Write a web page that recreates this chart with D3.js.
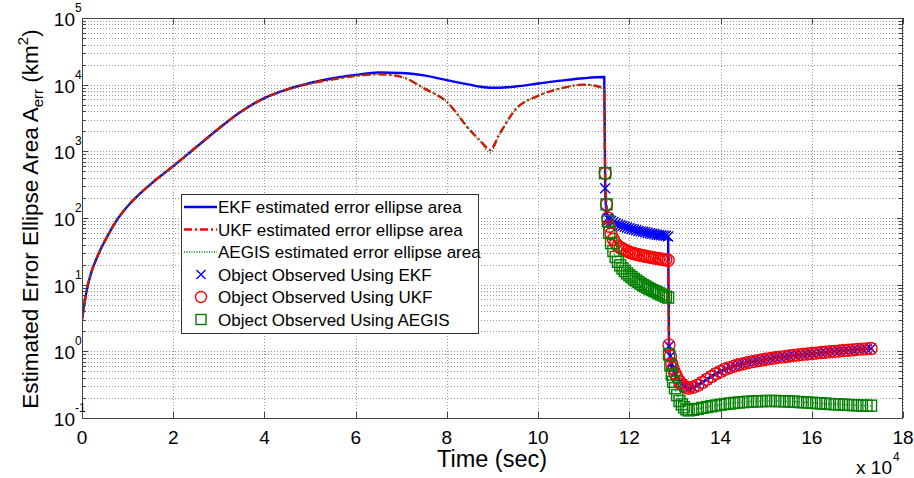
<!DOCTYPE html>
<html><head><meta charset="utf-8">
<script src="https://cdn.jsdelivr.net/npm/d3@7"></script>
<style>body{margin:0;background:#fff}svg{display:block;font-family:"Liberation Sans",Arial,sans-serif}</style>
</head><body><svg id="c" width="914" height="478"></svg>
<script>
// ---- data (time in units of 10^4 s) ----
const t1 = [0,0.1,0.2,0.3,0.4,0.5,0.75,1,1.5,2,2.5,3,3.5,4,4.5,5,5.5,6,6.5,7,7.5,8,8.5,8.75,8.95,9.15,9.5,10,10.5,11,11.45];
const ekf1 = [3,8,15,23,33,45,90,150,320,600,1150,2200,4000,6300,8500,10600,12500,14000,15200,15000,13800,11700,10000,9300,9000,9000,9400,10400,11500,12500,13000];
const ukf1 = [3,8,15,23,33,45,90,150,320,600,1150,2200,4000,6300,8500,10400,12000,13500,14300,13100,8800,5500,2100,1400,1050,1800,4200,6800,8800,10000,8800];
const aegis1 = [3,8,15,23,33,45,90,150,320,600,1150,2200,4000,6300,8500,10400,12000,13500,14300,13100,8800,5500,2100,1350,950,1750,4200,6800,8800,10000,8800];

const t2 = [11.47,11.5,11.53,11.56,11.6,11.65,11.7,11.75,11.8,11.85,11.9,11.95,12.0,12.05,12.1,12.15,12.2,12.25,12.3,12.35,12.4,12.45,12.5,12.55,12.6,12.65,12.7,12.75,12.8,12.85];
const ekf2 = [280,120,100,94,90,86,83,80,78,76,74,72,70,68.5,67,65.5,64,63,62,61,60,59,58,57,56,55.5,55,54.5,54,53];
const ukf2 = [470,160,100,75,58,48,42,38,36,34.5,33,32,30.5,29.8,29.2,28.6,28.1,27.6,27.1,26.7,26.3,25.9,25.5,25.1,24.8,24.5,24.2,23.9,23.6,23.3];
const aegis2 = [470,160,90,60,42,32,26,22,19.5,17.5,16,14.8,13.8,13,12.2,11.5,10.9,10.3,9.8,9.4,9.0,8.6,8.3,8.0,7.7,7.4,7.1,6.9,6.6,6.4];

const t3 = [12.87,12.9,12.93,12.96,13.0,13.05,13.1,13.15,13.2,13.25,13.3,13.4,13.5,13.6,13.7,13.8,13.9,14.0,14.1,14.2,14.3,14.4,14.5,14.6,14.7,14.8,14.9,15.0,15.1,15.2,15.3,15.4,15.5,15.6,15.7,15.8,15.9,16.0,16.1,16.2,16.3,16.4,16.5,16.6,16.7,16.8,16.9,17.0,17.1,17.2,17.3];
const ekf3 = [1.2,0.85,0.65,0.55,0.47,0.4,0.35,0.32,0.3,0.29,0.28,0.29,0.31,0.34,0.38,0.42,0.46,0.5,0.54,0.57,0.6,0.63,0.65,0.68,0.7,0.72,0.74,0.76,0.78,0.8,0.82,0.83,0.85,0.87,0.88,0.9,0.91,0.93,0.94,0.96,0.97,0.99,1.0,1.01,1.03,1.04,1.05,1.07,1.08,1.09,1.1];
const ukf3 = [1.25,0.85,0.65,0.55,0.47,0.4,0.35,0.32,0.3,0.29,0.28,0.29,0.31,0.34,0.38,0.42,0.46,0.5,0.54,0.57,0.6,0.63,0.65,0.68,0.7,0.72,0.74,0.76,0.78,0.8,0.82,0.83,0.85,0.87,0.88,0.9,0.91,0.93,0.94,0.96,0.97,0.99,1.0,1.01,1.03,1.04,1.05,1.07,1.08,1.09,1.1];
const aegis3 = [0.9,0.62,0.45,0.35,0.28,0.22,0.18,0.16,0.145,0.135,0.13,0.133,0.137,0.142,0.146,0.15,0.154,0.158,0.162,0.165,0.168,0.171,0.173,0.175,0.177,0.178,0.179,0.18,0.18,0.18,0.179,0.178,0.177,0.176,0.174,0.172,0.171,0.169,0.167,0.166,0.164,0.162,0.161,0.16,0.158,0.157,0.156,0.155,0.154,0.153,0.153];

const xTicks = [0,2,4,6,8,10,12,14,16,18];
const yExps = [-1,0,1,2,3,4,5];
const legendLabels = ["EKF estimated error ellipse area","UKF estimated error ellipse area","AEGIS estimated error ellipse area","Object Observed Using EKF","Object Observed Using UKF","Object Observed Using AEGIS"];

// ---- layout ----
const L=82,R=903,T=18,B=418;
const svg=d3.select("#c");
const x=d3.scaleLinear().domain([0,18]).range([L,R]);
const y=d3.scaleLog().domain([0.1,1e5]).range([B,T]);

const zip=(ts,vs)=>ts.map((t,i)=>[t,vs[i]]);
const ekfAll=zip(t1,ekf1).concat(zip(t2,ekf2),zip(t3,ekf3));
const ukfAll=zip(t1,ukf1).concat(zip(t2,ukf2),zip(t3,ukf3));
const aegisAll=zip(t1,aegis1).concat(zip(t2,aegis2),zip(t3,aegis3));
const ekfObs=zip(t2,ekf2).concat(zip(t3,ekf3));
const ukfObs=zip(t2,ukf2).concat(zip(t3,ukf3));
const aegisObs=zip(t2,aegis2).concat(zip(t3,aegis3));

// grid
const gridC="#9a9a9a";
const g=svg.append("g");
const minorVals=[];
yExps.slice(0,-1).forEach(e=>{for(let k=1;k<=9;k++)minorVals.push(k*Math.pow(10,e));});
minorVals.push(1e5);
g.selectAll("line.hg").data(minorVals).join("line")
 .attr("x1",L).attr("x2",R).attr("y1",d=>Math.round(y(d))+0.5).attr("y2",d=>Math.round(y(d))+0.5)
 .attr("stroke",gridC).attr("stroke-width",1).attr("stroke-dasharray","1,2");
g.selectAll("line.vg").data(xTicks).join("line")
 .attr("y1",T).attr("y2",B).attr("x1",d=>Math.round(x(d))+0.5).attr("x2",d=>Math.round(x(d))+0.5)
 .attr("stroke",gridC).attr("stroke-width",1).attr("stroke-dasharray","1,2");

// clip
svg.append("clipPath").attr("id","cp").append("rect").attr("x",L).attr("y",T).attr("width",R-L).attr("height",B-T);
const plot=svg.append("g").attr("clip-path","url(#cp)");
const line=d3.line().x(d=>x(d[0])).y(d=>y(d[1])).curve(d3.curveMonotoneX);

plot.append("path").datum(ekfAll).attr("d",line).attr("fill","none").attr("stroke","#0000ff").attr("stroke-width",2.4);
plot.append("path").datum(ukfAll).attr("d",line).attr("fill","none").attr("stroke","#ff0000").attr("stroke-width",2.4).attr("stroke-dasharray","8,3,2,3");
plot.append("path").datum(aegisAll).attr("d",line).attr("fill","none").attr("stroke","#008000").attr("stroke-width",1.5).attr("stroke-dasharray","1,2");

// markers
const xm=5;
plot.selectAll("path.xm").data(ekfObs).join("path")
 .attr("d",d=>{const cx=x(d[0]),cy=y(d[1]);return `M${cx-xm},${cy-xm}L${cx+xm},${cy+xm}M${cx-xm},${cy+xm}L${cx+xm},${cy-xm}`;})
 .attr("stroke","#0000ff").attr("stroke-width",1.4).attr("fill","none");
plot.selectAll("circle.om").data(ukfObs).join("circle")
 .attr("cx",d=>x(d[0])).attr("cy",d=>y(d[1])).attr("r",6)
 .attr("stroke","#ff0000").attr("stroke-width",1.4).attr("fill","none");
plot.selectAll("rect.sm").data(aegisObs).join("rect")
 .attr("x",d=>x(d[0])-5.5).attr("y",d=>y(d[1])-5.5).attr("width",11).attr("height",11)
 .attr("stroke","#008000").attr("stroke-width",1.4).attr("fill","none");

// axes box & ticks
const axC="#444";
svg.append("rect").attr("x",L+0.5).attr("y",T+0.5).attr("width",R-L-1).attr("height",B-T).attr("fill","none").attr("stroke",axC).attr("stroke-width",1);
const tk=svg.append("g").attr("stroke",axC).attr("stroke-width",1);
xTicks.forEach(v=>{const px=Math.round(x(v))+0.5;
 tk.append("line").attr("x1",px).attr("x2",px).attr("y1",B).attr("y2",B-6);
 tk.append("line").attr("x1",px).attr("x2",px).attr("y1",T).attr("y2",T+6);});
minorVals.forEach(v=>{const py=Math.round(y(v))+0.5;const maj=Math.abs(Math.log10(v)-Math.round(Math.log10(v)))<1e-9;const len=maj?6:4;
 tk.append("line").attr("x1",L).attr("x2",L+len).attr("y1",py).attr("y2",py);
 tk.append("line").attr("x1",R).attr("x2",R-len).attr("y1",py).attr("y2",py);});

// tick labels
svg.selectAll("text.xl").data(xTicks).join("text")
 .attr("x",d=>x(d)).attr("y",444).attr("text-anchor","middle").attr("font-size",19).attr("fill","#000").text(d=>d);
yExps.forEach(e=>{
 svg.append("text").attr("x",75).attr("y",y(Math.pow(10,e))+8).attr("text-anchor","end").attr("font-size",19).attr("fill","#000").text("10");
 svg.append("text").attr("x",75).attr("y",y(Math.pow(10,e))-6).attr("text-anchor","start").attr("font-size",12).attr("fill","#000").text(e);
});
// x 10^4
svg.append("text").attr("x",892).attr("y",474).attr("text-anchor","end").attr("font-size",19).text("x 10");
svg.append("text").attr("x",893).attr("y",461).attr("font-size",12).text("4");

// axis titles
svg.append("text").attr("x",492).attr("y",467).attr("text-anchor","middle").attr("font-size",23.5).text("Time (sec)");
const yl=svg.append("text").attr("transform","translate(38,219) rotate(-90)").attr("text-anchor","middle").attr("font-size",22.5);
yl.append("tspan").text("Estimated Error Ellipse Area A");
yl.append("tspan").attr("font-size",15).attr("dy",5).text("err");
yl.append("tspan").attr("dy",-5).text(" (km");
yl.append("tspan").attr("font-size",15).attr("dy",-10).text("2");
yl.append("tspan").attr("dy",10).text(")");

// legend
const lg=svg.append("g");
lg.append("rect").attr("x",181.5).attr("y",194.5).attr("width",297).attr("height",139).attr("fill","#fff").attr("stroke","#333").attr("stroke-width",1);
const rowY=i=>207+i*22.5;
legendLabels.forEach((s,i)=>{
 lg.append("text").attr("x",218).attr("y",rowY(i)+6).attr("font-size",17).text(s);
});
lg.append("line").attr("x1",184).attr("x2",217).attr("y1",rowY(0)).attr("y2",rowY(0)).attr("stroke","#0000ff").attr("stroke-width",2.4);
lg.append("line").attr("x1",184).attr("x2",217).attr("y1",rowY(1)).attr("y2",rowY(1)).attr("stroke","#ff0000").attr("stroke-width",2.4).attr("stroke-dasharray","8,3,2,3");
lg.append("line").attr("x1",184).attr("x2",217).attr("y1",rowY(2)).attr("y2",rowY(2)).attr("stroke","#008000").attr("stroke-width",1.5).attr("stroke-dasharray","1,1.5");
{const cx=201,cy=rowY(3);lg.append("path").attr("d",`M${cx-4.5},${cy-4.5}L${cx+4.5},${cy+4.5}M${cx-4.5},${cy+4.5}L${cx+4.5},${cy-4.5}`).attr("stroke","#0000ff").attr("stroke-width",1.4);}
lg.append("circle").attr("cx",201).attr("cy",rowY(4)).attr("r",5.5).attr("fill","none").attr("stroke","#ff0000").attr("stroke-width",1.4);
lg.append("rect").attr("x",196).attr("y",rowY(5)-5).attr("width",10).attr("height",10).attr("fill","none").attr("stroke","#008000").attr("stroke-width",1.4);
</script></body></html>
